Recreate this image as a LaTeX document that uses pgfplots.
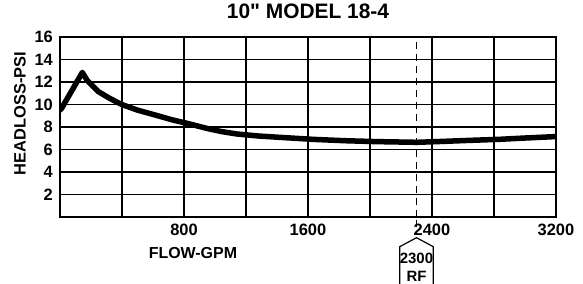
\documentclass[border=0pt]{standalone}
\usepackage{fontspec}
\setmainfont{Liberation Sans}
\usepackage{pgfplots}
\pgfplotsset{compat=1.18}
\begin{document}
\begin{tikzpicture}
\useasboundingbox (-60bp,-67bp) rectangle (523bp,217bp);
\begin{axis}[
  scale only axis,
  width=496bp, height=180bp,
  at={(0,0)}, anchor=south west,
  xmin=0, xmax=3200, ymin=0, ymax=16,
  xtick={800,1600,2400,3200},
  minor xtick={400,1200,2000,2800},
  ytick={2,4,6,8,10,12,14,16},
  grid=both,
  major grid style={line width=1.2bp, black},
  minor grid style={line width=1.2bp, black},
  major tick length=0pt, minor tick length=0pt,
  axis line style={line width=1.8bp, black},
  /pgf/number format/assume math mode=true,
  /pgf/number format/1000 sep={},
  xticklabel style={font=\bfseries\fontsize{16.5}{16.5}\selectfont, anchor=north, inner sep=0pt, yshift=-7bp},
  yticklabel style={font=\bfseries\fontsize{16.5}{16.5}\selectfont, anchor=east, inner sep=0pt, xshift=-7bp},
  xlabel={FLOW-GPM},
  xlabel style={font=\bfseries\fontsize{16}{16}\selectfont, at={(rel axis cs:0.268,0)}, anchor=center, yshift=-35.7bp},
  ylabel={HEADLOSS-PSI},
  ylabel style={font=\bfseries\fontsize{16.5}{16.5}\selectfont, at={(rel axis cs:-0.0806,0.575)}, anchor=center},
  title={10\textquotedbl{} MODEL 18-4},
  title style={font=\bfseries\fontsize{21}{21}\selectfont, at={(rel axis cs:0.5,1)}, anchor=base, yshift=13bp},
]
\addplot[black, line width=0.9bp, dash pattern=on 7bp off 5bp] coordinates {(2300,0) (2300,16)};
\addplot[black, line width=5.5bp, line join=round, line cap=round] coordinates {
(0,9.5) (10,9.65) (144,12.85) (175,12.15) (247,11.15) (320,10.55) (398,10.0) (500,9.5)
(613,9.07) (720,8.65) (828,8.3) (946,7.88) (1040,7.6) (1140,7.38) (1280,7.2)
(1419,7.08) (1634,6.9) (1840,6.78) (2043,6.7) (2301,6.64) (2430,6.7) (2620,6.8)
(2828,6.9) (3000,7.02) (3200,7.15)
};
\coordinate (rfa) at (axis cs:2300,0);
\end{axis}
\draw[black, line width=0.9bp, dash pattern=on 7bp off 5bp] ([yshift=-3bp]rfa) -- ([yshift=-17bp]rfa);
\draw[black, line width=1.2bp, line join=miter] ([xshift=-16.8bp,yshift=-80bp]rfa) -- ([xshift=-16.8bp,yshift=-29.7bp]rfa) -- ([yshift=-20.7bp]rfa) -- ([xshift=16.8bp,yshift=-29.7bp]rfa) -- ([xshift=16.8bp,yshift=-80bp]rfa);
\node[font=\bfseries\fontsize{15}{15}\selectfont, inner sep=0pt] at ([yshift=-41bp]rfa) {2300};
\node[font=\bfseries\fontsize{15}{15}\selectfont, inner sep=0pt] at ([yshift=-59.5bp]rfa) {RF};
\end{tikzpicture}
\end{document}
